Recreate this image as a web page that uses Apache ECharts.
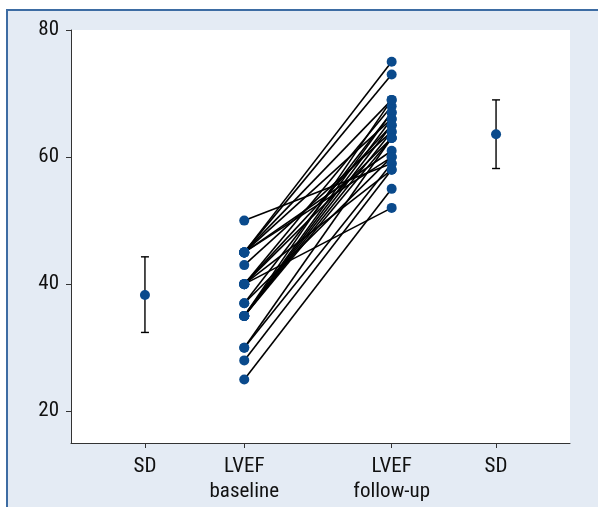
<!DOCTYPE html>
<html>
<head>
<meta charset="utf-8">
<script src="https://cdn.jsdelivr.net/npm/echarts@6/dist/echarts.min.js"></script>
<style>
html,body{margin:0;padding:0;background:#fff;width:598px;height:507px;overflow:hidden;}
#bg{position:absolute;left:6px;top:9px;width:620px;height:520px;background:#e4ebf4;border-left:2px solid #3d6ca3;border-top:2px solid #3d6ca3;}
#chart{position:absolute;left:0;top:0;width:598px;height:507px;}
</style>
</head>
<body>
<div id="bg"></div>
<div id="chart"></div>
<script>
// Category labels and their positions on the x axis
const xLabels = ['SD', 'LVEF\nbaseline', 'LVEF\nfollow-up', 'SD'];
const xPos = [0.741, 1.736, 3.213, 4.259];
const yTicks = [20, 40, 60, 80];

// Paired patient values (baseline -> follow-up)
const baseline = [50,45,45,45,45,45,45,43,40,40,40,40,40,37,37,35,35,35,35,35,35,30,30,28,25];
const followup = [59,75,73,69,66,61,60,64,68,65,63,58,52,67,60,69,67,66,65,64,63,63,59,58,55];

// Mean ± SD summaries
const sdMean = [38.3, 63.6];
const sdLow  = [32.4, 58.2];
const sdHigh = [44.3, 69.0];

const dotColor = '#0a4a8c';
const font = '"Roboto Condensed", "Liberation Sans Narrow", "Arial Narrow", "DejaVu Sans Condensed", Roboto, sans-serif';

const series = [];
baseline.forEach((b, i) => {
  series.push({
    type: 'line',
    data: [[xPos[1], b], [xPos[2], followup[i]]],
    symbol: 'none',
    lineStyle: { color: '#000', width: 1.6 },
    silent: true, z: 2, animation: false
  });
});
series.push({
  type: 'scatter',
  data: baseline.map(b => [xPos[1], b]).concat(followup.map(f => [xPos[2], f])),
  symbolSize: 10,
  itemStyle: { color: dotColor, opacity: 1 },
  z: 5, animation: false
});
series.push({
  type: 'custom',
  data: [[xPos[0], sdLow[0], sdHigh[0]], [xPos[3], sdLow[1], sdHigh[1]]],
  renderItem: function (params, api) {
    const x = api.value(0);
    const p1 = api.coord([x, api.value(1)]);
    const p2 = api.coord([x, api.value(2)]);
    const w = 4;
    const st = { stroke: '#000', lineWidth: 1.4 };
    return {
      type: 'group',
      children: [
        { type: 'line', shape: { x1: p1[0], y1: p1[1], x2: p2[0], y2: p2[1] }, style: st },
        { type: 'line', shape: { x1: p1[0]-w, y1: p1[1], x2: p1[0]+w, y2: p1[1] }, style: st },
        { type: 'line', shape: { x1: p2[0]-w, y1: p2[1], x2: p2[0]+w, y2: p2[1] }, style: st }
      ]
    };
  },
  z: 3, animation: false
});
series.push({
  type: 'scatter',
  data: [[xPos[0], sdMean[0]], [xPos[3], sdMean[1]]],
  symbolSize: 10,
  itemStyle: { color: dotColor, opacity: 1 },
  z: 5, animation: false
});

const chart = echarts.init(document.getElementById('chart'), null, { renderer: 'canvas' });
chart.setOption({
  animation: false,
  grid: { left: 71, right: 28, top: 30, bottom: 64, show: true, backgroundColor: '#fff', borderWidth: 0 },
  xAxis: {
    type: 'value', min: 0, max: 5,
    axisLine: { show: true, lineStyle: { color: '#333', width: 1 } },
    axisTick: { show: true, length: 5, lineStyle: { color: '#333' }, customValues: xPos },
    axisLabel: {
      customValues: xPos, margin: 11, color: '#111', fontFamily: font, fontSize: 21, lineHeight: 25,
      formatter: function (v) {
        let best = 0;
        xPos.forEach((p, i) => { if (Math.abs(p - v) < Math.abs(xPos[best] - v)) best = i; });
        return xLabels[best];
      }
    },
    splitLine: { show: false }
  },
  yAxis: {
    type: 'value', min: 15, max: 80,
    axisLine: { show: true, lineStyle: { color: '#333', width: 1 } },
    axisTick: { show: true, length: 5, lineStyle: { color: '#333' }, customValues: yTicks },
    axisLabel: { customValues: yTicks, margin: 12, color: '#111', fontFamily: font, fontSize: 21 },
    splitLine: { show: false }
  },
  series: series
});
</script>
</body>
</html>
